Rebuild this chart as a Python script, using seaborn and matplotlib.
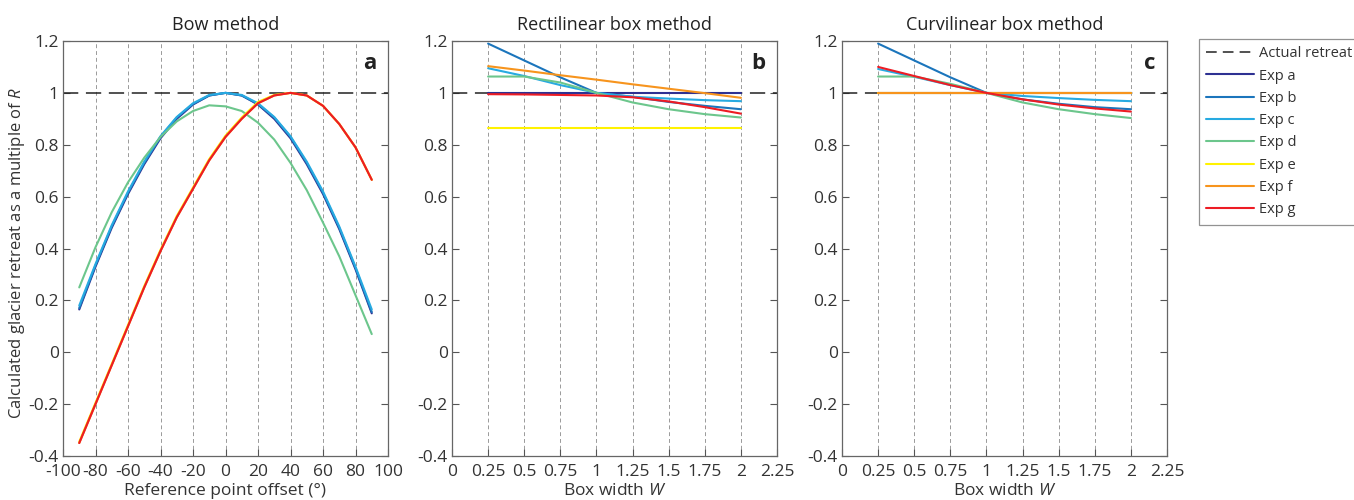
import numpy as np
import pandas as pd
import matplotlib
matplotlib.use('Agg')
import matplotlib.pyplot as plt
from matplotlib.lines import Line2D
import seaborn as sns

# ---- data ----
exp_names = ['Exp a', 'Exp b', 'Exp c', 'Exp d', 'Exp e', 'Exp f', 'Exp g']
exp_colors = ['#2e3192', '#1b75bc', '#27aae1', '#6cc68c', '#fff200', '#f7941d', '#ed1c24']

# panel a: bow method, reference point offset in degrees
offset = [-90, -80, -70, -60, -50, -40, -30, -20, -10, 0, 10, 20, 30, 40, 50, 60, 70, 80, 90]
bow_a = [0.165, 0.33, 0.48, 0.61, 0.725, 0.825, 0.9, 0.955, 0.99, 1.0, 0.99, 0.955, 0.9, 0.825, 0.725, 0.61, 0.475, 0.32, 0.15]
bow_b = [0.17, 0.335, 0.485, 0.615, 0.73, 0.83, 0.905, 0.957, 0.99, 1.0, 0.99, 0.957, 0.905, 0.83, 0.73, 0.615, 0.48, 0.325, 0.155]
bow_c = [0.18, 0.34, 0.49, 0.62, 0.735, 0.833, 0.907, 0.96, 0.992, 1.0, 0.992, 0.96, 0.907, 0.833, 0.735, 0.62, 0.485, 0.33, 0.165]
bow_d = [0.25, 0.405, 0.54, 0.655, 0.75, 0.83, 0.89, 0.93, 0.952, 0.948, 0.93, 0.885, 0.82, 0.73, 0.625, 0.5, 0.37, 0.22, 0.07]
bow_e = [-0.345, -0.195, -0.045, 0.105, 0.255, 0.395, 0.525, 0.635, 0.745, 0.835, 0.905, 0.965, 0.992, 1.0, 0.99, 0.95, 0.88, 0.79, 0.665]
bow_f = [-0.35, -0.2, -0.05, 0.1, 0.25, 0.39, 0.52, 0.63, 0.74, 0.83, 0.9, 0.96, 0.99, 1.0, 0.99, 0.95, 0.88, 0.79, 0.665]
bow_g = [-0.35, -0.2, -0.05, 0.1, 0.25, 0.39, 0.52, 0.63, 0.74, 0.83, 0.9, 0.96, 0.99, 1.0, 0.99, 0.95, 0.88, 0.79, 0.665]

# panels b and c: box width W
width = [0.25, 0.5, 0.75, 1.0, 1.25, 1.5, 1.75, 2.0]
rect_a = [1.0, 1.0, 1.0, 1.0, 1.0, 1.0, 1.0, 1.0]
rect_b = [1.19, 1.125, 1.06, 1.0, 0.985, 0.965, 0.95, 0.937]
rect_c = [1.095, 1.065, 1.03, 1.0, 0.985, 0.978, 0.972, 0.968]
rect_d = [1.063, 1.063, 1.04, 1.0, 0.963, 0.937, 0.918, 0.905]
rect_e = [0.865, 0.865, 0.865, 0.865, 0.865, 0.865, 0.865, 0.865]
rect_f = [1.103, 1.086, 1.068, 1.051, 1.033, 1.016, 0.999, 0.981]
rect_g = [0.995, 0.994, 0.992, 0.99, 0.983, 0.967, 0.945, 0.92]

curv_a = [1.0, 1.0, 1.0, 1.0, 1.0, 1.0, 1.0, 1.0]
curv_b = [1.19, 1.125, 1.06, 1.0, 0.975, 0.958, 0.945, 0.937]
curv_c = [1.092, 1.062, 1.03, 1.0, 0.988, 0.98, 0.973, 0.968]
curv_d = [1.063, 1.063, 1.035, 1.0, 0.963, 0.937, 0.918, 0.903]
curv_e = [1.0, 1.0, 1.0, 1.0, 1.0, 1.0, 1.0, 1.0]
curv_f = [1.0, 1.0, 1.0, 1.0, 1.0, 1.0, 1.0, 1.0]
curv_g = [1.1, 1.065, 1.03, 1.0, 0.975, 0.955, 0.94, 0.928]

titles = ['Bow method', 'Rectilinear box method', 'Curvilinear box method']
panel_letters = ['a', 'b', 'c']
yticks = [-0.4, -0.2, 0, 0.2, 0.4, 0.6, 0.8, 1.0, 1.2]
ytick_labels = ['-0.4', '-0.2', '0', '0.2', '0.4', '0.6', '0.8', '1', '1.2']
bow_xticks = [-100, -80, -60, -40, -20, 0, 20, 40, 60, 80, 100]
bow_xtick_labels = ['-100', '-80', '-60', '-40', '-20', '0', '20', '40', '60', '80', '100']
box_xticks = [0, 0.25, 0.5, 0.75, 1.0, 1.25, 1.5, 1.75, 2.0, 2.25]
box_xtick_labels = ['0', '0.25', '0.5', '0.75', '1', '1.25', '1.5', '1.75', '2', '2.25']


def long_frame(x, series):
    rows = []
    for name, vals in zip(exp_names, series):
        for xi, yi in zip(x, vals):
            rows.append({'x': xi, 'y': yi, 'exp': name})
    return pd.DataFrame(rows)


sns.set_style('ticks')
plt.rcParams['font.family'] = ['Open Sans', 'DejaVu Sans']
plt.rcParams['mathtext.fontset'] = 'custom'
plt.rcParams['mathtext.it'] = 'Open Sans:italic'
plt.rcParams['mathtext.rm'] = 'Open Sans'

fig = plt.figure(figsize=(13.54, 5.0), dpi=100)
lefts = [63, 452, 842]
axes = [fig.add_axes([l / 1354, 1 - 456 / 500, 325 / 1354, 415 / 500]) for l in lefts]

frames = [
    long_frame(offset, [bow_a, bow_b, bow_c, bow_d, bow_e, bow_f, bow_g]),
    long_frame(width, [rect_a, rect_b, rect_c, rect_d, rect_e, rect_f, rect_g]),
    long_frame(width, [curv_a, curv_b, curv_c, curv_d, curv_e, curv_f, curv_g]),
]

for i, ax in enumerate(axes):
    ax.axhline(1.0, color='#222222', lw=1.1, ls=(0, (10, 5)), zorder=1)
    sns.lineplot(data=frames[i], x='x', y='y', hue='exp', hue_order=exp_names,
                 palette=exp_colors, estimator=None, sort=False, lw=1.5,
                 legend=False, ax=ax, zorder=3)
    if i == 0:
        ax.set_xlim(-100, 100)
        ax.set_xticks(bow_xticks)
        ax.set_xticklabels(bow_xtick_labels)
        ax.set_xlabel('Reference point offset (°)', fontsize=12.5, color='#333333', labelpad=2)
        ax.set_ylabel(r'Calculated glacier retreat as a multiple of $\it{R}$', fontsize=12,
                      color='#333333')
        ax.yaxis.set_label_coords(-0.112, 0.49)
    else:
        ax.set_xlim(0, 2.25)
        ax.set_xticks(box_xticks)
        ax.set_xticklabels(box_xtick_labels)
        ax.set_xlabel(r'Box width $\it{W}$', fontsize=12.5, color='#333333', labelpad=2)
        ax.set_ylabel('')
    ax.set_ylim(-0.4, 1.2)
    ax.set_yticks(yticks)
    ax.set_yticklabels(ytick_labels)
    ax.grid(axis='x', color='#9a9a9a', lw=0.7, ls=(0, (4, 3)))
    ax.set_axisbelow(True)
    ax.tick_params(direction='in', length=5, width=0.8, colors='#555555',
                   labelcolor='#333333', labelsize=12.5, right=True, pad=3)
    ax.tick_params(axis='x', pad=6)
    for s in ax.spines.values():
        s.set_color('#666666')
        s.set_linewidth(0.9)
    ax.set_title(titles[i], fontsize=13, color='#222222', pad=8)
    ax.text(0.965, 0.945, panel_letters[i], transform=ax.transAxes, ha='right', va='center',
            fontsize=16, fontweight='bold', color='#222222')

handles = [Line2D([], [], color='#222222', lw=1.1, ls=(0, (7, 4)))]
handles += [Line2D([], [], color=c, lw=1.5) for c in exp_colors]
leg = fig.legend(handles, ['Actual retreat'] + exp_names, loc='upper left',
                 bbox_to_anchor=(1199 / 1354, 1 - 39 / 500), frameon=True, fancybox=False,
                 fontsize=10.5, handlelength=3.3, handletextpad=0.3, labelspacing=0.5,
                 borderpad=0.5, borderaxespad=0)
leg.get_frame().set_edgecolor('#777777')
leg.get_frame().set_linewidth(0.9)
for t in leg.get_texts():
    t.set_color('#333333')

fig.savefig('out.png', dpi=100)
